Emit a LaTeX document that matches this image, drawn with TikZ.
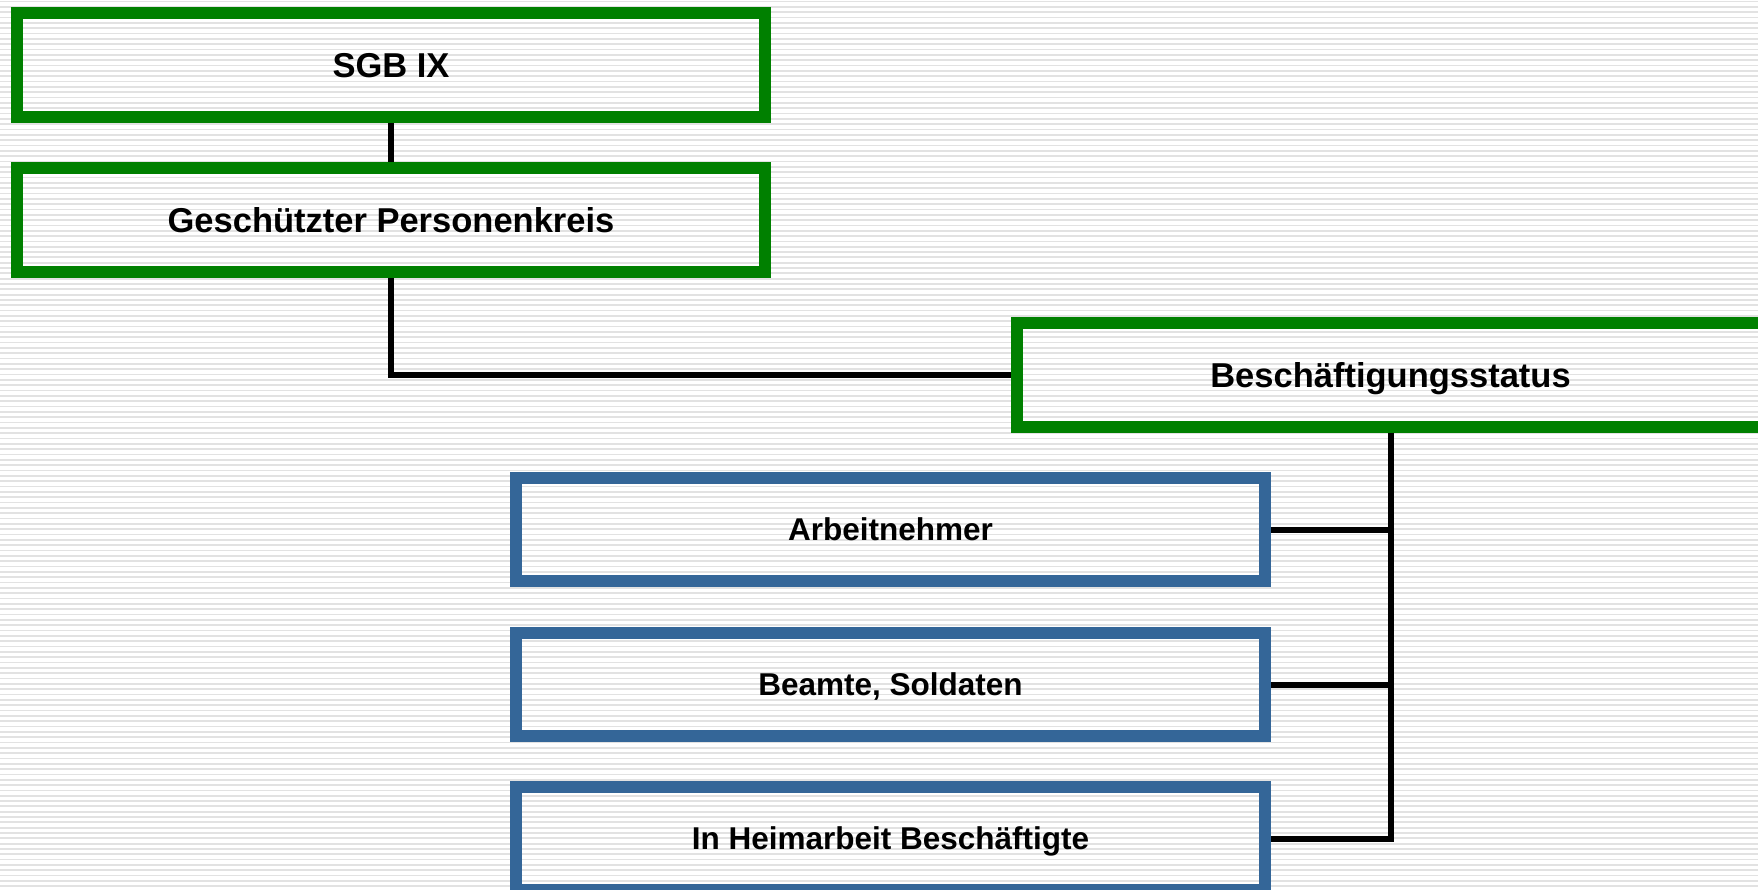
\documentclass[tikz,border=0pt]{standalone}
\usepackage{fontspec}
\setmainfont{Liberation Sans}
\definecolor{boxgreen}{RGB}{0,128,0}
\definecolor{boxblue}{RGB}{52,102,152}
\definecolor{bgline}{RGB}{226,226,226}
\begin{document}
\begin{tikzpicture}[x=1pt,y=-1pt,
  greenbox/.style={draw=boxgreen,line width=12pt,minimum width=748pt,minimum height=104pt,inner sep=0pt,
    text depth=0pt,font=\fontsize{34.5}{40}\selectfont\bfseries},
  bluebox/.style={draw=boxblue,line width=12pt,minimum width=749pt,minimum height=103pt,inner sep=0pt,
    text depth=0pt,font=\fontsize{31.5}{37}\selectfont\bfseries},
  conn/.style={draw=black,line width=6pt,line join=miter}]
\useasboundingbox (0,0) rectangle (1758,889);
\clip (0,0) rectangle (1758,889);
\fill[white] (0,0) rectangle (1758,889);
\foreach \i in {0,...,167} {
  \draw[bgline,line width=1.7pt] (0,\i*5.33+1.5) -- (1758,\i*5.33+1.5);
}
\node[greenbox] (sgb) at (391,65) {SGB IX};
\node[greenbox] (gpk) at (391,220) {Geschützter Personenkreis};
\node[greenbox] (bst) at (1390.5,374.5) {Beschäftigungsstatus};
\node[bluebox] (arb) at (890.5,529.5) {Arbeitnehmer};
\node[bluebox] (bea) at (890.5,684.5) {Beamte, Soldaten};
\node[bluebox] (hei) at (890.5,838.5) {In Heimarbeit Beschäftigte};
\draw[conn] (sgb.south) -- (gpk.north);
\draw[conn] (gpk.south) |- (bst.west);
\draw[conn] (bst.south) |- (hei.east);
\draw[conn] (arb.east) -- (arb.east -| bst.south);
\draw[conn] (bea.east) -- (bea.east -| bst.south);
\end{tikzpicture}
\end{document}
